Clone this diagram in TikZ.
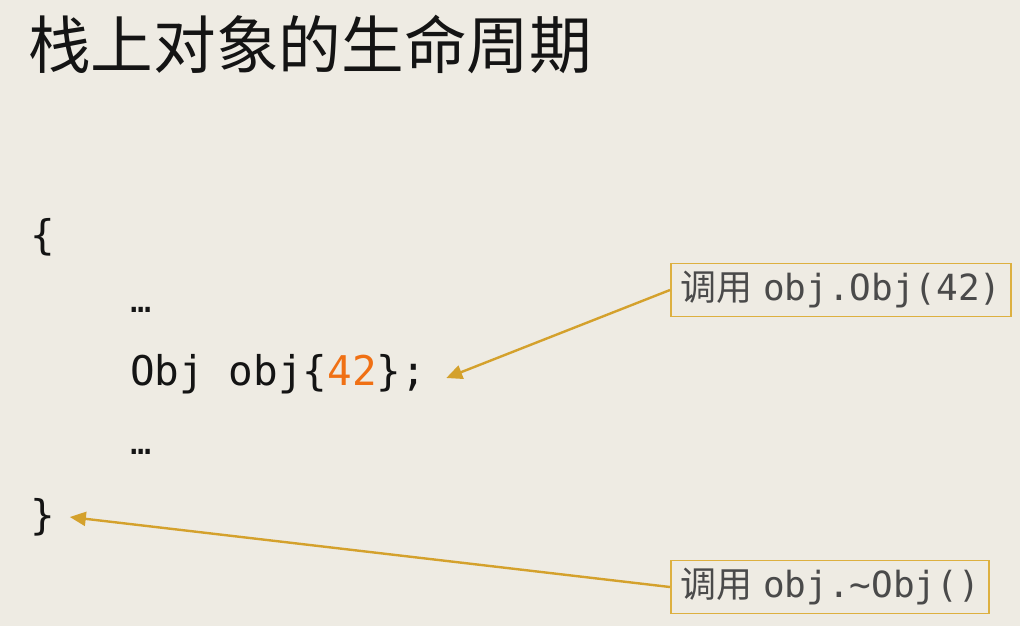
\documentclass[tikz,border=0pt]{standalone}
\usepackage{fontspec}
\setmonofont{DejaVu Sans Mono}
\newfontfamily\cjk{Noto Sans CJK SC}
\usetikzlibrary{arrows.meta}
\definecolor{bgc}{HTML}{EEEBE3}
\definecolor{goldline}{HTML}{D4A12C}
\definecolor{boxline}{HTML}{DDB040}
\definecolor{numc}{HTML}{F07014}
\definecolor{graytxt}{HTML}{4A4A4A}
\definecolor{ink}{HTML}{141414}
\tikzset{
  codetext/.style={font=\ttfamily\fontsize{30.7}{36}\selectfont, text=ink, inner sep=0pt, anchor=west},
  dotstext/.style={font=\ttfamily\fontsize{26}{30}\selectfont, text=ink, inner sep=0pt, anchor=west},
  callbox/.style={draw=boxline, line width=1.3pt, font=\fontsize{27}{32}\selectfont, text=graytxt, inner xsep=7pt, inner ysep=6pt, anchor=west},
  callarrow/.style={draw=goldline, line width=1.8pt, -{Triangle[length=12pt,width=10.5pt]}}
}
\begin{document}
\begin{tikzpicture}[x=0.75pt,y=-0.75pt]
\useasboundingbox[fill=bgc] (0,0) rectangle (1020,626);
\node[anchor=west, inner sep=0pt, text=ink, font=\cjk\fontsize{47}{54}\selectfont] (title) at (28,44) {栈上对象的生命周期};
\node[codetext] (lbrace) at (30,237) {\{};
\node[dotstext] (dots1) at (130,310) {…};
\node[codetext] (decl) at (130,374) {Obj obj\{\textcolor{numc}{42}\};};
\node[dotstext] (dots2) at (130,452) {…};
\node[codetext] (rbrace) at (30,517) {\}};
\node[callbox] (call1) at (670,290) {{\cjk 调用} \texttt{obj.Obj(42)}};
\node[callbox] (call2) at (670,587) {{\cjk 调用} \texttt{obj.\char`\~Obj()}};
\draw[callarrow] (call1.west) -- ([xshift=15pt,yshift=-3pt]decl.east);
\draw[callarrow] (call2.west) -- ([xshift=11pt]rbrace.east);
\end{tikzpicture}
\end{document}
